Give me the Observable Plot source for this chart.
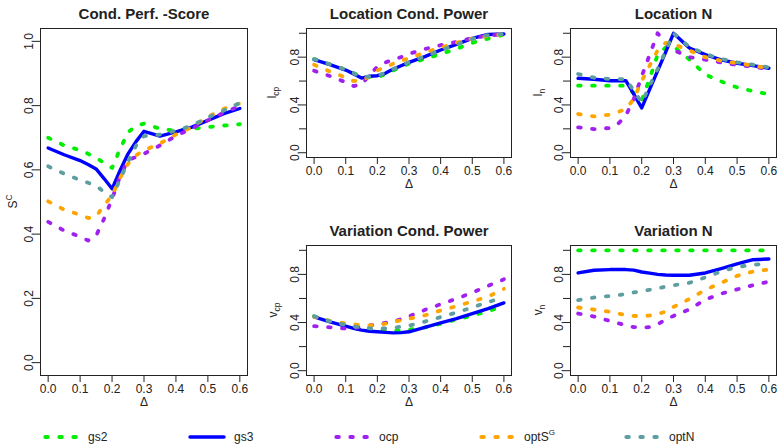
<!DOCTYPE html>
<html><head><meta charset="utf-8">
<script src="https://cdn.jsdelivr.net/npm/d3@7"></script>
<script src="https://cdn.jsdelivr.net/npm/@observablehq/plot@0.6"></script>
<style>
body{margin:0;background:#fff;font-family:"Liberation Sans",Arial,Helvetica,sans-serif;}
#root{position:relative;width:778px;height:447px;overflow:hidden;background:#fff;}
.panel{position:absolute;}
#legend{position:absolute;left:0;top:428px;width:778px;height:18px;font-size:12px;color:#222;}
.item{position:absolute;top:0;height:18px;display:flex;align-items:center;}
.item svg{margin-right:8px;}
sup{font-size:8px;vertical-align:6px;line-height:0;}
</style></head><body><div id="root"></div>
<script>
// ---- data ----
const delta = [0, 0.05, 0.1, 0.125, 0.15, 0.175, 0.2, 0.225, 0.25, 0.275, 0.3, 0.35, 0.4, 0.45, 0.5, 0.55, 0.6];
const xTicks = [0, 0.1, 0.2, 0.3, 0.4, 0.5, 0.6];
const yTicks = [0, 0.2, 0.4, 0.6, 0.8, 1.0];
const seriesNames = ["gs2", "gs3", "ocp", "optSG", "optN"];
const seriesLabels = ["gs2", "gs3", "ocp", "optS", "optN"];
const seriesSup = ["", "", "", "G", ""];
const seriesColors = ["#00ee00", "#0000ff", "#a020f0", "#ffa500", "#5f9ea0"];
const seriesSolid = [false, true, false, false, false];

// Cond. Perf. S-Score
const perf_gs2   = [.700, .676, .661, .650, .637, .622, .606, .665, .717, .737, .744, .728, .722, .728, .733, .738, .742];
const perf_gs3   = [.668, .647, .629, .617, .603, .573, .541, .598, .650, .688, .720, .705, .718, .733, .754, .775, .791];
const perf_ocp   = [.438, .411, .392, .380, .395, .448, .510, .580, .630, .640, .650, .676, .706, .729, .754, .778, .799];
const perf_optSG = [.502, .476, .460, .450, .455, .490, .520, .575, .619, .645, .661, .682, .710, .733, .765, .790, .807];
const perf_optN  = [.611, .588, .568, .560, .550, .532, .515, .570, .625, .675, .705, .710, .722, .738, .763, .785, .808];

// Location Cond. Power
const lcp_gs2   = [.784, .740, .694, .665, .635, .632, .636, .655, .688, .718, .745, .785, .826, .870, .920, .955, .990];
const lcp_gs3   = [.779, .737, .692, .660, .625, .640, .645, .665, .700, .728, .756, .805, .860, .907, .958, .990, .994];
const lcp_ocp   = [.686, .642, .590, .558, .570, .650, .720, .755, .780, .800, .828, .868, .900, .928, .960, .980, .994];
const lcp_optSG = [.737, .680, .630, .600, .605, .640, .690, .715, .745, .770, .790, .840, .880, .920, .955, .978, .994];
const lcp_optN  = [.784, .740, .695, .665, .632, .638, .645, .668, .700, .728, .758, .807, .858, .905, .952, .985, .994];

// Location N
const ln_gs2   = [.561, .561, .561, .561, .561, .500, .440, .620, .820, .880, .890, .780, .655, .597, .547, .515, .490];
const ln_gs3   = [.623, .615, .603, .603, .603, .490, .375, .530, .685, .840, 1.00, .877, .821, .777, .749, .729, .707];
const ln_ocp   = [.212, .198, .207, .240, .310, .450, .640, .820, 1.00, .920, .860, .800, .780, .755, .735, .720, .700];
const ln_optSG = [.324, .304, .318, .340, .366, .450, .600, .730, .855, .920, .910, .855, .800, .770, .750, .730, .707];
const ln_optN  = [.659, .628, .617, .617, .617, .520, .420, .560, .700, .850, 1.00, .885, .827, .785, .757, .737, .715];

// Variation Cond. Power
const vcp_gs2   = [.452, .410, .372, .355, .342, .336, .333, .331, .331, .333, .342, .359, .390, .425, .458, .495, .535];
const vcp_gs3   = [.447, .406, .370, .352, .337, .328, .323, .318, .314, .316, .323, .359, .397, .433, .474, .516, .563];
const vcp_ocp   = [.370, .360, .350, .355, .364, .375, .385, .397, .410, .428, .452, .505, .552, .598, .648, .705, .759];
const vcp_optSG = [.447, .414, .392, .385, .378, .376, .380, .390, .405, .418, .432, .460, .500, .535, .575, .615, .680];
const vcp_optN  = [.452, .410, .380, .368, .359, .352, .350, .352, .357, .365, .374, .408, .445, .484, .525, .570, .610];

// Variation N
const vn_gs2   = [1, 1, 1, 1, 1, 1, 1, 1, 1, 1, 1, 1, 1, 1, 1, 1, 1];
const vn_gs3   = [.812, .834, .840, .840, .840, .835, .820, .810, .800, .795, .793, .793, .812, .848, .887, .922, .928];
const vn_ocp   = [.475, .450, .413, .395, .377, .362, .357, .362, .385, .425, .455, .510, .590, .640, .675, .710, .740];
const vn_optSG = [.525, .508, .489, .475, .461, .455, .453, .458, .470, .490, .530, .595, .672, .730, .788, .823, .840];
const vn_optN  = [.586, .608, .620, .627, .637, .650, .660, .672, .685, .698, .710, .730, .775, .825, .862, .880, .890];

// ---- layout ----
const panels = [
  {title: "Cond. Perf. -Score", y: {main: "S", sup: "C"}, sparse: false,
   series: [perf_gs2, perf_gs3, perf_ocp, perf_optSG, perf_optN],
   left: 0, top: 0, width: 250, height: 420, mL: 40, mR: 3, mT: 28, mB: 45, labX: 16.5},
  {title: "Location Cond. Power", y: {main: "l", sub: "cp"}, sparse: true,
   series: [lcp_gs2, lcp_gs3, lcp_ocp, lcp_optSG, lcp_optN],
   left: 260, top: 0, width: 260, height: 205, mL: 46, mR: 9, mT: 28, mB: 48, labX: 16},
  {title: "Location N", y: {main: "l", sub: "n"}, sparse: true,
   series: [ln_gs2, ln_gs3, ln_ocp, ln_optSG, ln_optN],
   left: 520, top: 0, width: 258, height: 205, mL: 50, mR: 2, mT: 28, mB: 48, labX: 21.5},
  {title: "Variation Cond. Power", y: {main: "v", sub: "cp"}, sparse: true,
   series: [vcp_gs2, vcp_gs3, vcp_ocp, vcp_optSG, vcp_optN],
   left: 260, top: 210, width: 260, height: 210, mL: 46, mR: 9, mT: 35, mB: 45, labX: 16.5},
  {title: "Variation N", y: {main: "v", sub: "n"}, sparse: true,
   series: [vn_gs2, vn_gs3, vn_ocp, vn_optSG, vn_optN],
   left: 520, top: 210, width: 258, height: 210, mL: 50, mR: 2, mT: 35, mB: 45, labX: 22}
];

const root = document.getElementById("root");
const ink = "#222";

panels.forEach(p => {
  const marks = [];
  seriesNames.forEach((n, k) => {
    const rows = delta.map((d, i) => ({x: d, y: p.series[k][i]}));
    marks.push(Plot.line(rows, {
      x: "x", y: "y", stroke: seriesColors[k],
      strokeWidth: seriesSolid[k] ? 3.4 : 3.8,
      strokeDasharray: seriesSolid[k] ? undefined : "2.6,11.4",
      strokeLinecap: "round", strokeLinejoin: "round"
    }));
  });
  marks.push(Plot.frame({stroke: ink, strokeWidth: 1}));
  marks.push(Plot.axisX({ticks: xTicks, tickSize: 7, tickPadding: 2, tickFormat: d => d.toFixed(1), label: null, stroke: ink}));
  marks.push(Plot.axisY({ticks: yTicks, tickSize: 7, tickPadding: 1, tickRotate: -90, label: null, stroke: ink,
    tickFormat: d => (p.sparse && [0.2, 0.6, 1].some(v => Math.abs(v - d) < 1e-9)) ? "" : d.toFixed(1)}));
  marks.push(Plot.text([p.title], {text: d => d, frameAnchor: "top", dy: -20, fontWeight: "bold", fontSize: 15, fill: ink}));
  marks.push(Plot.text(["Δ"], {text: d => d, frameAnchor: "bottom", dy: 30, fontSize: 12, fill: ink}));

  const svg = Plot.plot({
    width: p.width, height: p.height,
    marginLeft: p.mL, marginRight: p.mR, marginTop: p.mT, marginBottom: p.mB,
    x: {domain: [-0.024, 0.624]},
    y: {domain: [-0.04, 1.04]},
    style: {fontSize: "12px", fontFamily: '"Liberation Sans", Arial, sans-serif', color: ink, background: "transparent", overflow: "visible"},
    marks
  });
  const cy = p.mT + (p.height - p.mT - p.mB) / 2;
  const t = d3.select(svg).append("text")
    .attr("transform", `translate(${p.labX},${cy}) rotate(-90)`)
    .attr("text-anchor", "middle")
    .attr("fill", ink)
    .style("font-size", "12px")
    .style("font-family", '"Liberation Sans", Arial, sans-serif');
  t.append("tspan").text(p.y.main);
  if (p.y.sup) t.append("tspan").attr("dy", -5).style("font-size", "8.5px").text(p.y.sup);
  if (p.y.sub) t.append("tspan").attr("dy", 3).style("font-size", "8.5px").text(p.y.sub);

  const wrap = document.createElement("div");
  wrap.className = "panel";
  wrap.style.left = p.left + "px";
  wrap.style.top = p.top + "px";
  wrap.appendChild(svg);
  root.appendChild(wrap);
});

// ---- legend ----
const legend = document.createElement("div");
legend.id = "legend";
const legendX = [44, 190, 335, 480, 625];
seriesNames.forEach((n, k) => {
  const it = document.createElement("div");
  it.className = "item";
  it.style.left = (legendX[k] - 2) + "px";
  const dash = seriesSolid[k] ? "" : `stroke-dasharray="2.6,11.4"`;
  const x1 = seriesSolid[k] ? 2 : 3.3, x2 = 36;
  it.innerHTML = `<svg width="38" height="10"><line x1="${x1}" y1="5" x2="${x2}" y2="5" stroke="${seriesColors[k]}" stroke-width="${seriesSolid[k] ? 3.4 : 3.8}" stroke-linecap="round" ${dash}/></svg><span>${seriesLabels[k]}${seriesSup[k] ? "<sup>" + seriesSup[k] + "</sup>" : ""}</span>`;
  legend.appendChild(it);
});
root.appendChild(legend);
</script></body></html>
